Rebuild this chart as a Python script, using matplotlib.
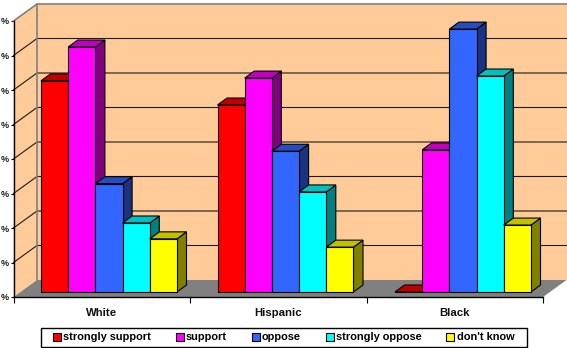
import matplotlib
matplotlib.use("Agg")
import matplotlib.pyplot as plt
from matplotlib.patches import Polygon, Patch, Rectangle

plt.rcParams['font.family'] = ['Liberation Sans', 'DejaVu Sans']

# Survey shares, percent of each group
groups = ["White", "Hispanic", "Black"]
responses = ["strongly support", "support", "oppose", "strongly oppose", "don't know"]
strongly_support = [30.6, 27.1, 0.0]
support = [35.5, 31.0, 20.6]
oppose = [15.7, 20.4, 38.1]
strongly_oppose = [10.0, 14.5, 31.3]
dont_know = [7.7, 6.5, 9.7]
series = [strongly_support, support, oppose, strongly_oppose, dont_know]
y_ticks = [0, 5, 10, 15, 20, 25, 30, 35, 40]
y_tick_labels = ["%"] * len(y_ticks)

front_colors = ["#FF0000", "#FF00FF", "#3366FF", "#00FFFF", "#FFFF00"]
top_colors = ["#C00000", "#C000C0", "#264CBF", "#00C0C0", "#C0C000"]
side_colors = ["#800000", "#800080", "#1A3380", "#008080", "#808000"]

W, H = 567, 348
fig = plt.figure(figsize=(W / 100, H / 100), dpi=100, facecolor="white")
ax = fig.add_axes([13.5 / W, 1 - 297 / H, 529.5 / W, 276 / H])
ax.set_xlim(0, 3)
ax.set_ylim(0, 40)
ax.patch.set_alpha(0)

# Pixel sizes expressed in axis units
px = 3 / 529.5
py = 40 / 276
wall_dx, wall_dy = 23.5 * px, 17 * py
bar_dx, bar_dy = 9.5 * px, 7 * py
inset_dx, inset_dy = 7.25 * px, 5 * py
bar_w = 27.2 * px
group_shift = [0, 0, 1 * px]
LW = 0.8

# Back wall, side wall and floor of the box
ax.add_patch(Polygon([(wall_dx, wall_dy), (3 + wall_dx, wall_dy), (3 + wall_dx, 40 + wall_dy), (wall_dx, 40 + wall_dy)],
                     fc="#FFCC99", ec="none", clip_on=False, zorder=1))
ax.add_patch(Polygon([(0, 0), (wall_dx, wall_dy), (wall_dx, 40 + wall_dy), (0, 40)],
                     fc="#FFCC99", ec="none", clip_on=False, zorder=1))
ax.add_patch(Polygon([(0, 0), (3, 0), (3 + wall_dx, wall_dy), (wall_dx, wall_dy)],
                     fc="#808080", ec="none", clip_on=False, zorder=2))
for t in y_ticks[1:-1]:
    ax.plot([0, wall_dx, 3 + wall_dx], [t, t + wall_dy, t + wall_dy], color="#1a1a1a", lw=LW,
            clip_on=False, zorder=1.5, solid_joinstyle="miter")
ax.plot([0, wall_dx, 3 + wall_dx], [40, 40 + wall_dy, 40 + wall_dy], color="#808080", lw=1.2,
        clip_on=False, zorder=1.6)
ax.plot([wall_dx, wall_dx], [wall_dy, 40 + wall_dy], color="#808080", lw=1.2, clip_on=False, zorder=1.6)

# Bars: front face from the axes, top and side faces offset by the bar depth
z = 3
for g in range(len(groups)):
    for k, values in enumerate(series):
        v = values[g]
        x0 = g + 0.5 + (k - 2.5) * bar_w + inset_dx + group_shift[g]
        x1 = x0 + bar_w
        y0, y1 = inset_dy, v + inset_dy
        ax.bar(x0, v, width=bar_w, bottom=inset_dy, align="edge", color=front_colors[k],
               edgecolor="black", linewidth=LW, zorder=z + 0.2, clip_on=False)
        ax.add_patch(Polygon([(x0, y1), (x1, y1), (x1 + bar_dx, y1 + bar_dy), (x0 + bar_dx, y1 + bar_dy)],
                             fc=top_colors[k], ec="black", lw=LW, clip_on=False, zorder=z + 0.1))
        ax.add_patch(Polygon([(x1, y0), (x1 + bar_dx, y0 + bar_dy), (x1 + bar_dx, y1 + bar_dy), (x1, y1)],
                             fc=side_colors[k], ec="black", lw=LW, clip_on=False, zorder=z))
        z += 1

for name in ("top", "right"):
    ax.spines[name].set_visible(False)
for name in ("left", "bottom"):
    ax.spines[name].set_linewidth(1.0)
    ax.spines[name].set_zorder(50)

ax.set_yticks(y_ticks)
ax.set_yticklabels(y_tick_labels, fontsize=6.5, fontweight="bold", color="#222222")
ax.tick_params(axis="y", length=2, width=0.8, pad=1.5)
ax.set_xticks([0, 1, 2, 3])
ax.set_xticklabels([])
ax.tick_params(axis="x", length=4.5, width=0.8)
for i, name in enumerate(groups):
    ax.text(i + 0.5, -1.6, name, ha="center", va="top", fontsize=8.2, fontweight="bold", color="#111111")

# Legend box drawn separately so its side margins can exceed its vertical ones
ax.add_patch(Rectangle((40.5 / W, 1 - 347 / H), 486.5 / W, 19 / H, transform=fig.transFigure,
                       fc="white", ec="black", lw=1.0, zorder=55, clip_on=False))
handles = [Patch(fc=c, ec="black", lw=LW) for c in front_colors]
leg = ax.legend(handles, responses, ncol=5, loc="center", bbox_to_anchor=(283.5 / W, 1 - 337.5 / H),
                bbox_transform=fig.transFigure, prop={"weight": "bold", "size": 7.9},
                frameon=False, handlelength=0.73, handleheight=0.73, handletextpad=0.2,
                columnspacing=2.26, borderpad=0, borderaxespad=0)
leg.set_zorder(60)

fig.savefig("out.png", dpi=100)
